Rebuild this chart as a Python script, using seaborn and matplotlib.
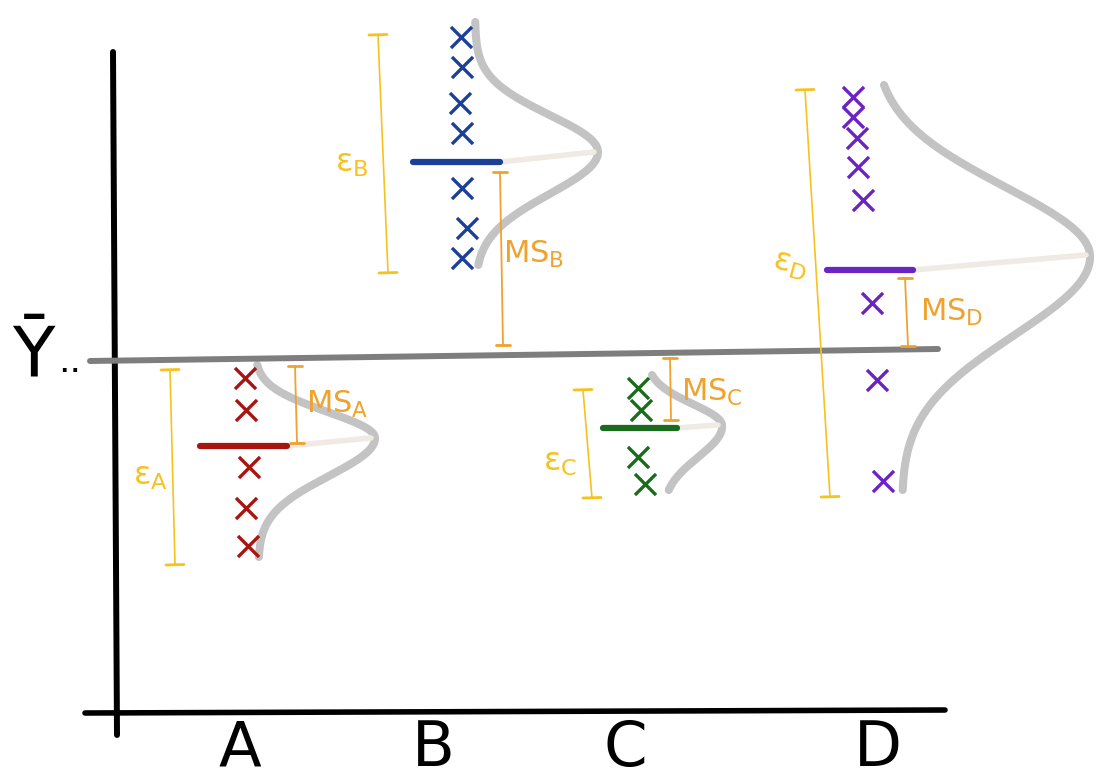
import numpy as np
import matplotlib
matplotlib.use("Agg")
import matplotlib.pyplot as plt
import seaborn as sns

# groups, readings (y grows downwards like the drawing)
groups = ['A', 'B', 'C', 'D']
colors = ['#a8140f', '#1c3f98', '#1a6b1c', '#6a24c4']
label_x = [240, 433, 625, 878]

obs_x = [[245, 246, 249, 246, 248],
         [461, 462, 460, 462, 462, 467, 462],
         [638, 641, 638, 645],
         [853, 853, 857, 858, 863, 872, 877, 883]]
obs_y = [[378, 410, 467, 508, 546],
         [37, 67, 103, 133, 188, 228, 258],
         [388, 410, 457, 484],
         [97, 117, 138, 167, 200, 303, 380, 481]]

mean_y = [446, 162, 428, 270]
mean_x0 = [200, 413, 603, 827]
mean_x1 = [287, 500, 677, 913]

# bell curves: top, peak, bottom of each sketched distribution
bell_top = [(255, 365), (475, 22), (648, 375), (875, 85)]
bell_peak = [(375, 438), (598, 152), (722, 425), (1090, 255)]
bell_bot = [(258, 557), (475, 265), (660, 490), (900, 490)]
bell_sd_up = [26, 37, 21, 68]
bell_sd_down = [38, 42, 32, 80]

# error span (epsilon) and MS span
eps_from = [(170, 370), (378, 35), (583, 390), (805, 90)]
eps_to = [(175, 565), (388, 273), (592, 498), (830, 497)]
eps_lab = [(150, 476), (352, 163), (560, 462), (790, 265)]
eps_rot = [0, 0, 0, -15]
ms_from = [(295, 366), (500, 172), (670, 358), (905, 278)]
ms_to = [(297, 443), (503, 345), (671, 420), (908, 346)]
ms_lab = [(337, 404), (534, 254), (712, 392), (952, 312)]

grand_from = (90, 361)
grand_to = (938, 349)

YELLOW = '#f6c21d'
ORANGE = '#f0a22e'
BELL = '#c3c3c3'
FAINT = '#efebe4'

sns.set_theme(style='white')
plt.rcParams['font.family'] = ['DejaVu Sans']
plt.rcParams['mathtext.fontset'] = 'dejavusans'

fig = plt.figure(figsize=(11, 7.84), dpi=100)
ax = fig.add_axes([0, 0, 1, 1])
ax.set_xlim(0, 1100)
ax.set_ylim(784, 0)
ax.axis('off')

# axes of the sketch
ax.plot([113, 117], [52, 735], color='black', lw=4.3, solid_capstyle='round')
ax.plot([85, 945], [713, 710], color='black', lw=4.0, solid_capstyle='round')

# grand mean
ax.plot([grand_from[0], grand_to[0]], [grand_from[1], grand_to[1]],
        color='#7e7e7e', lw=4.3, solid_capstyle='round', zorder=2)
ax.text(12, 376, '\u0232', fontsize=50, color='black', ha='left', va='baseline')
ax.text(58, 372, '..', fontsize=26, color='black', ha='left', va='baseline')

for i, g in enumerate(groups):
    # distribution
    (xt, yt), (xp, yp), (xb, yb) = bell_top[i], bell_peak[i], bell_bot[i]
    yy = np.linspace(yt, yb, 300)
    base = xt + (xb - xt) * (yy - yt) / (yb - yt)
    sd = np.where(yy < yp, bell_sd_up[i], bell_sd_down[i])
    base_p = xt + (xb - xt) * (yp - yt) / (yb - yt)
    xx = base + (xp - base_p) * np.exp(-(yy - yp) ** 2 / (2 * sd ** 2))
    ax.plot(xx, yy, color=BELL, lw=5.8, solid_capstyle='round', zorder=1)

    # faint line from the mean bar to the peak
    ax.plot([mean_x1[i], xp - 4], [mean_y[i], yp], color=FAINT, lw=4, zorder=1)

    # group mean
    ax.plot([mean_x0[i], mean_x1[i]], [mean_y[i], mean_y[i]],
            color=colors[i], lw=4.5, solid_capstyle='round', zorder=4)

    # observations
    sns.scatterplot(x=obs_x[i], y=obs_y[i], marker='x', color=colors[i],
                    s=230, linewidth=2.4, ax=ax, zorder=5)

    # epsilon span
    (x0, y0), (x1, y1) = eps_from[i], eps_to[i]
    ax.plot([x0, x1], [y0, y1], color=YELLOW, lw=1.2, zorder=3)
    for cx, cy in [(x0, y0), (x1, y1)]:
        ax.plot([cx - 9, cx + 9], [cy, cy - 0.5], color=YELLOW, lw=2, zorder=3)
    ax.text(eps_lab[i][0], eps_lab[i][1], r'$\mathregular{\varepsilon_{%s}}$' % g,
            fontsize=23, color=YELLOW, ha='center', va='center', rotation=eps_rot[i])

    # MS span
    (x0, y0), (x1, y1) = ms_from[i], ms_to[i]
    ax.plot([x0, x1], [y0, y1], color=ORANGE, lw=1.3, zorder=3)
    for cx, cy in [(x0, y0), (x1, y1)]:
        ax.plot([cx - 7, cx + 7], [cy, cy], color=ORANGE, lw=2, zorder=3)
    ax.text(ms_lab[i][0], ms_lab[i][1], r'$\mathregular{MS_{%s}}$' % g,
            fontsize=22, color=ORANGE, ha='center', va='center')

    # category label
    ax.text(label_x[i], 749, g, fontsize=45, color='black', ha='center', va='center')

plt.savefig('out.png', dpi=100)
